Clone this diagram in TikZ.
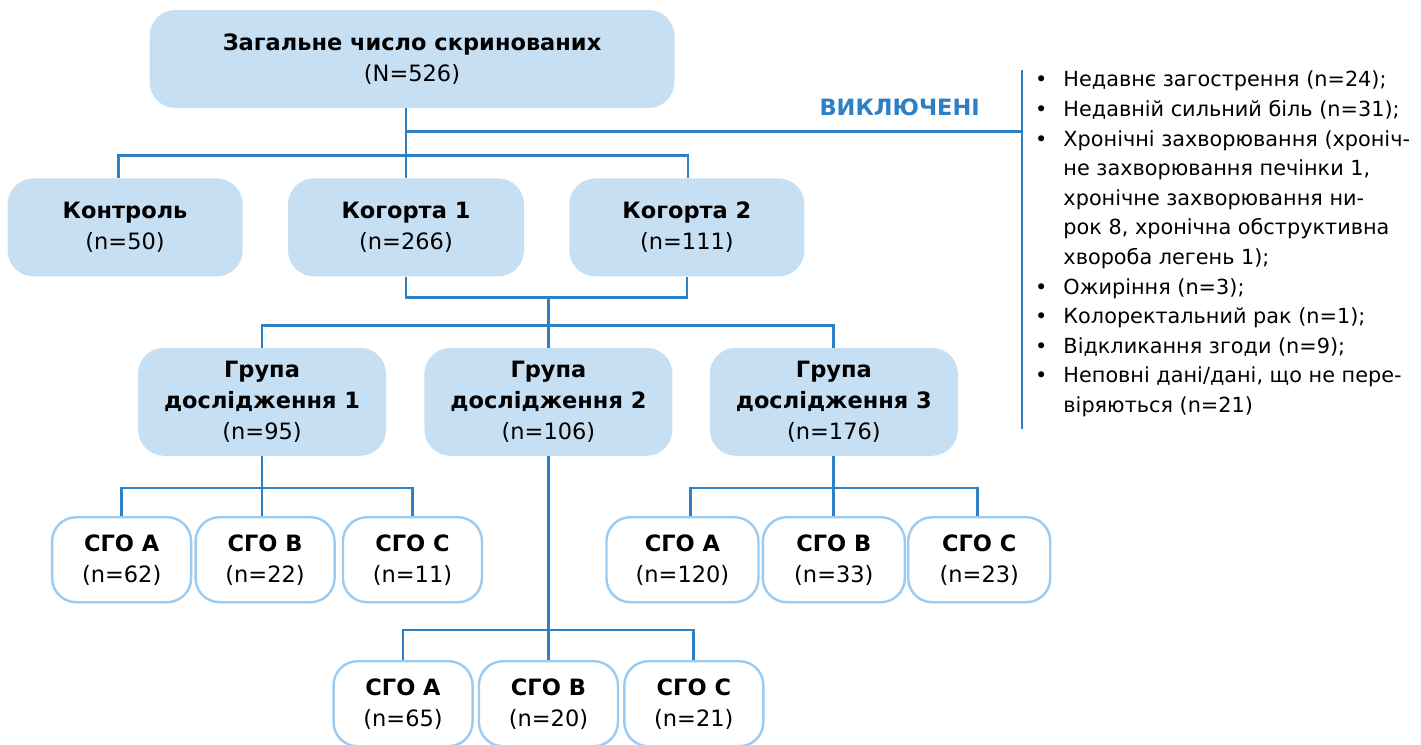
\documentclass[tikz,border=0pt]{standalone}
\usepackage{fontspec}
\setmainfont{DejaVu Sans}
\usetikzlibrary{
    positioning, % For relative positioning (below=of ...)
    calc         % For midpoints and offsets
}
\definecolor{boxfill}{HTML}{C7DFF3}
\definecolor{linkblue}{HTML}{2E80C4}
\definecolor{sgoline}{HTML}{9DCBEF}

\begin{document}
\begin{tikzpicture}[
    x=1pt, y=1pt,
    % Define styles
    mainbox/.style={rectangle, fill=boxfill, rounded corners=26pt, inner sep=0pt, align=center, font=\fontsize{22.5}{31}\selectfont}, % Filled group box
    sgobox/.style={rectangle, draw=sgoline, line width=2.4pt, fill=white, rounded corners=24pt, inner sep=0pt, minimum width=139pt, minimum height=85pt, align=center, font=\fontsize{22.5}{31}\selectfont}, % Outlined subgroup box
    link/.style={draw=linkblue, line width=2.8pt}, % Connector line
    excltitle/.style={text=linkblue, font=\fontsize{22.5}{28}\selectfont\bfseries, inner sep=0pt}, % Excluded heading
    excllist/.style={inner xsep=13pt, inner ysep=0pt, align=left, font=\fontsize{20.8}{29.6}\selectfont} % Excluded reasons
]
\useasboundingbox (0,0) rectangle (1421,-744);

% ----- SCREENED AND COHORTS -----
\node (total)   [mainbox, minimum width=525pt, minimum height=98pt] at (412,-59) {\textbf{Загальне число скринованих}\\(N=526)};
\node (kohort1) [mainbox, minimum width=236pt, minimum height=98pt, below=70pt of total, xshift=-6pt] {\textbf{Когорта 1}\\(n=266)};
\node (control) [mainbox, minimum width=235pt, minimum height=98pt, left=45pt of kohort1] {\textbf{Контроль}\\(n=50)};
\node (kohort2) [mainbox, minimum width=235pt, minimum height=98pt, right=45pt of kohort1] {\textbf{Когорта 2}\\(n=111)};

% ----- STUDY GROUPS -----
\coordinate (k_mid) at ($(kohort1.south)!0.5!(kohort2.south)$);
\node (group2) [mainbox, minimum width=248pt, minimum height=108pt, below=71pt of k_mid, xshift=2pt] {\textbf{Група}\\\textbf{дослідження 2}\\(n=106)};
\node (group1) [mainbox, minimum width=248pt, minimum height=108pt, left=38pt of group2] {\textbf{Група}\\\textbf{дослідження 1}\\(n=95)};
\node (group3) [mainbox, minimum width=248pt, minimum height=108pt, right=37pt of group2] {\textbf{Група}\\\textbf{дослідження 3}\\(n=176)};

% ----- SGO SUBGROUPS -----
\node (sgo1b) [sgobox, below=60pt of group1, xshift=3pt] {\textbf{СГО B}\\(n=22)};
\node (sgo1a) [sgobox, left=2pt of sgo1b] {\textbf{СГО A}\\(n=62)};
\node (sgo1c) [sgobox, right=6pt of sgo1b] {\textbf{СГО C}\\(n=11)};

\node (sgo3b) [sgobox, minimum width=142pt, below=60pt of group3] {\textbf{СГО B}\\(n=33)};
\node (sgo3a) [sgobox, minimum width=152pt, left=2pt of sgo3b] {\textbf{СГО A}\\(n=120)};
\node (sgo3c) [sgobox, minimum width=142pt, right=1pt of sgo3b] {\textbf{СГО C}\\(n=23)};

\node (sgo2b) [sgobox, below=204pt of group2] {\textbf{СГО B}\\(n=20)};
\node (sgo2a) [sgobox, left=4pt of sgo2b] {\textbf{СГО A}\\(n=65)};
\node (sgo2c) [sgobox, right=4pt of sgo2b] {\textbf{СГО C}\\(n=21)};

% ----- EXCLUDED -----
\node (excl) [excllist, anchor=north west] at (1022,-66) {%
    \begin{tabular}{@{}l@{\hspace{16pt}}l@{}}
    \textbullet & Недавнє загострення (n=24);\\
    \textbullet & Недавній сильний біль (n=31);\\
    \textbullet & Хронічні захворювання (хроніч-\\
                & не захворювання печінки 1,\\
                & хронічне захворювання ни-\\
                & рок 8, хронічна обструктивна\\
                & хвороба легень 1);\\
    \textbullet & Ожиріння (n=3);\\
    \textbullet & Колоректальний рак (n=1);\\
    \textbullet & Відкликання згоди (n=9);\\
    \textbullet & Неповні дані/дані, що не пере-\\
                & віряються (n=21)
    \end{tabular}};
\coordinate (excl_jn) at ($(kohort1.north |- total.south)+(0,-23pt)$);
\node (excl_label) [excltitle, anchor=base east] at ($(excl_jn -| excl.west)+(-42pt,16pt)$) {ВИКЛЮЧЕНІ};

% Draw connectors
\draw [link] (kohort1.north |- total.south) -- (kohort1.north);
\draw [link] (excl_jn) -- (excl_jn -| excl.west);
\draw [link] ([yshift=-4pt]excl.north west) -- ([yshift=-7pt]excl.south west);
\draw [link] ([xshift=-7pt]control.north) -- ++(0,23pt) -| ([xshift=1pt]kohort2.north);

\coordinate (k_bus) at ($(kohort1.south)+(0,-21pt)$);
\draw [link] (kohort1.south) -- (k_bus) -| (kohort2.south);
\draw [link] (k_bus -| group2.north) -- (group2.north);
\draw [link] (group1.north) -- ++(0,22pt) -| (group3.north);

\draw [link] (group1.south) -- (group1.south |- sgo1b.north);
\draw [link] (sgo1a.north) -- ++(0,28pt) -| (sgo1c.north);
\draw [link] (group3.south) -- (group3.south |- sgo3b.north);
\draw [link] ([xshift=8pt]sgo3a.north) -- ++(0,28pt) -| ([xshift=-2pt]sgo3c.north);
\draw [link] (group2.south) -- (sgo2b.north);
\draw [link] (sgo2a.north) -- ++(0,30pt) -| (sgo2c.north);

\end{tikzpicture}
\end{document}
